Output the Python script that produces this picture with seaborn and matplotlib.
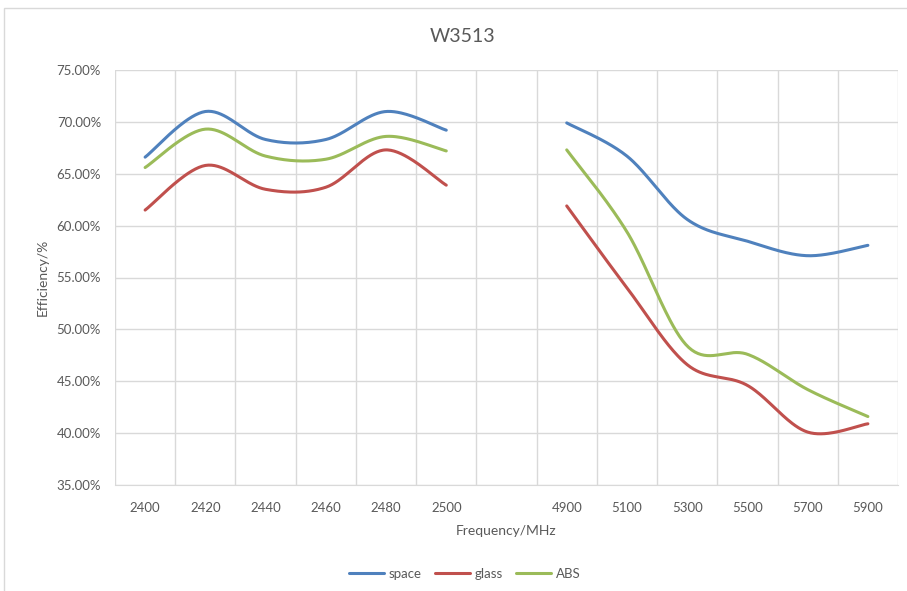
"""Efficiency vs frequency for W3513, Excel-style smoothed lines."""

import matplotlib

matplotlib.use("Agg")
import matplotlib.pyplot as plt
from matplotlib.patches import Rectangle
from matplotlib.ticker import FixedLocator, PercentFormatter
import numpy as np
import pandas as pd
import seaborn as sns

# categories along the x axis; the empty one is the gap between bands
freq_labels = ["2400", "2420", "2440", "2460", "2480", "2500", "",
               "4900", "5100", "5300", "5500", "5700", "5900"]

space = [66.6, 71.0, 68.3, 68.3, 71.0, 69.2, None,
         69.9, 66.7, 60.6, 58.5, 57.1, 58.1]
glass = [61.5, 65.8, 63.5, 63.7, 67.3, 63.9, None,
         61.9, 54.0, 46.6, 44.6, 40.1, 40.9]
abs_ = [65.6, 69.3, 66.7, 66.4, 68.6, 67.2, None,
        67.3, 59.4, 48.4, 47.6, 44.2, 41.6]

series = {"space": space, "glass": glass, "ABS": abs_}
colors = {"space": "#4F81BD", "glass": "#C0504D", "ABS": "#9BBB59"}


def smooth(xs, ys, n=40):
    # Excel-like smoothing: cubic Bezier with Catmull-Rom control points
    xs = np.asarray(xs, float)
    ys = np.asarray(ys, float)
    px = np.concatenate([[xs[0]], xs, [xs[-1]]])
    py = np.concatenate([[ys[0]], ys, [ys[-1]]])
    t = np.linspace(0, 1, n)[:, None]
    out_x, out_y = [], []
    for i in range(1, len(px) - 2):
        p0 = np.array([px[i], py[i]])
        p3 = np.array([px[i + 1], py[i + 1]])
        c1 = p0 + (np.array([px[i + 1], py[i + 1]]) - np.array([px[i - 1], py[i - 1]])) / 6
        c2 = p3 - (np.array([px[i + 2], py[i + 2]]) - np.array([px[i], py[i]])) / 6
        pts = ((1 - t) ** 3) * p0 + 3 * ((1 - t) ** 2) * t * c1 + 3 * (1 - t) * t ** 2 * c2 + t ** 3 * p3
        if i > 1:
            pts = pts[1:]
        out_x.extend(pts[:, 0])
        out_y.extend(pts[:, 1])
    return out_x, out_y


rows = []
for name, vals in series.items():
    seg, seg_id = [], 0
    for idx, v in enumerate(vals + [None]):
        if v is None:
            if seg:
                sx, sy = smooth([p[0] for p in seg], [p[1] for p in seg])
                rows += [{"material": name, "seg": f"{name}{seg_id}", "x": a, "eff": b} for a, b in zip(sx, sy)]
                seg_id += 1
            seg = []
        else:
            seg.append((idx, v))
df = pd.DataFrame(rows)

sns.set_style("white")
plt.rcParams["font.family"] = ["Lato", "DejaVu Sans"]
text_color = "#595959"
grid_color = "#D9D9D9"

fig = plt.figure(figsize=(9.07, 5.91), dpi=100)
ax = fig.add_axes([115 / 907, 1 - 485 / 591, 783 / 907, 415 / 591])

sns.lineplot(data=df, x="x", y="eff", hue="material", units="seg", estimator=None,
             palette=colors, hue_order=list(series), linewidth=2.2, sort=False, ax=ax)

n = len(freq_labels)
ax.set_xlim(-0.5, n - 0.5)
ax.set_ylim(35, 75)
ax.set_xticks(range(n))
ax.set_xticklabels(freq_labels)
ax.xaxis.set_minor_locator(FixedLocator(np.arange(-0.5, n, 1.0)))
ax.set_yticks(np.arange(35, 75.1, 5))
ax.yaxis.set_major_formatter(PercentFormatter(decimals=2))
ax.grid(axis="y", which="major", color=grid_color, lw=1)
ax.grid(axis="x", which="minor", color=grid_color, lw=1)
ax.grid(axis="x", which="major", visible=False)
ax.tick_params(which="both", length=0, labelsize=9.5, colors=text_color, pad=10)
ax.tick_params(axis="x", pad=12)
for side in ["top", "right", "left"]:
    ax.spines[side].set_visible(False)
ax.spines["bottom"].set_color(grid_color)

ax.set_xlabel("Frequency/MHz", fontsize=10, color=text_color, labelpad=8)
ax.set_ylabel("Efficiency/%", fontsize=10, color=text_color, labelpad=6)
fig.text(463 / 907, 1 - 37 / 591, "W3513", ha="center", va="center", fontsize=14, color=text_color)

handles, labels = ax.get_legend_handles_labels()
ax.legend(handles, labels, loc="center", bbox_to_anchor=(465 / 907, (591 - 574) / 591),
          bbox_transform=fig.transFigure, ncol=3, frameon=False, fontsize=9.5,
          handlelength=2.6, columnspacing=1.0, handletextpad=0.4, labelcolor=text_color)

fig.patches.append(Rectangle((4 / 907, -0.01), 1.0, (591 - 8) / 591 + 0.01,
                             transform=fig.transFigure, fill=False, ec=grid_color, lw=1))

fig.savefig("out.png", dpi=100, facecolor="white")
